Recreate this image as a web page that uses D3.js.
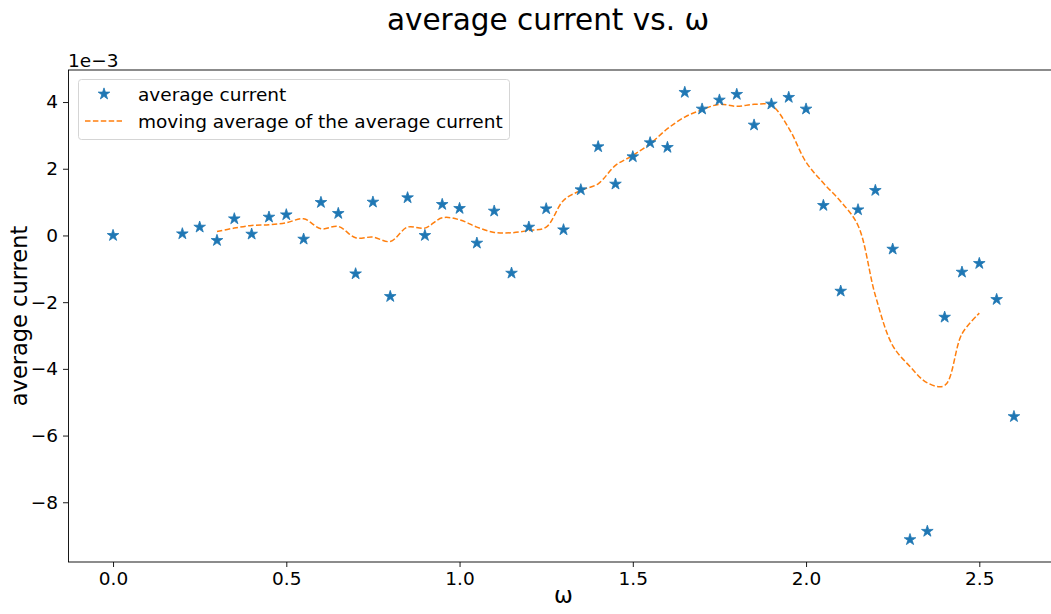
<!DOCTYPE html>
<html>
<head>
<meta charset="utf-8">
<script src="https://cdn.jsdelivr.net/npm/d3@7"></script>
<style>
  html, body { margin: 0; padding: 0; background: #fff; }
  svg { display: block; font-family: "DejaVu Sans", sans-serif; }
</style>
</head>
<body>
<svg id="chart" width="1051" height="614"></svg>
<script>
// Drive frequency ω for each measurement
const omega = [0.0, 0.2, 0.25, 0.3, 0.35, 0.4, 0.45, 0.5, 0.55, 0.6, 0.65, 0.7, 0.75, 0.8,
  0.85, 0.9, 0.95, 1.0, 1.05, 1.1, 1.15, 1.2, 1.25, 1.3, 1.35, 1.4, 1.45, 1.5, 1.55, 1.6,
  1.65, 1.7, 1.75, 1.8, 1.85, 1.9, 1.95, 2.0, 2.05, 2.1, 2.15, 2.2, 2.25, 2.3, 2.35, 2.4,
  2.45, 2.5, 2.55, 2.6];

// Average current at each ω, in units of 1e-3
const avgCurrent = [0.0, 0.05, 0.25, -0.15, 0.5, 0.04, 0.55, 0.62, -0.11, 0.99, 0.66, -1.15,
  1.0, -1.83, 1.13, 0.0, 0.93, 0.81, -0.23, 0.73, -1.13, 0.25, 0.8, 0.17, 1.37, 2.66, 1.54,
  2.36, 2.78, 2.64, 4.29, 3.79, 4.06, 4.23, 3.31, 3.94, 4.14, 3.79, 0.9, -1.67, 0.77, 1.35,
  -0.41, -9.12, -8.87, -2.45, -1.1, -0.84, -1.92, -5.43];

// Smoothed moving average of the average current (units of 1e-3)
const maOmega = [0.3, 0.35, 0.4, 0.45, 0.5, 0.55, 0.6, 0.65, 0.7, 0.75, 0.8, 0.85, 0.9,
  0.95, 1.0, 1.05, 1.1, 1.15, 1.2, 1.25, 1.3, 1.35, 1.4, 1.45, 1.5, 1.55, 1.6, 1.65, 1.7,
  1.75, 1.8, 1.85, 1.9, 1.95, 2.0, 2.05, 2.1, 2.15, 2.2, 2.25, 2.3, 2.35, 2.4, 2.45, 2.5];
const maCurrent = [0.12, 0.22, 0.30, 0.32, 0.38, 0.50, 0.20, 0.27, -0.07, -0.05, -0.18,
  0.25, 0.22, 0.53, 0.47, 0.25, 0.09, 0.08, 0.15, 0.25, 1.05, 1.35, 1.55, 2.1, 2.4, 2.75,
  3.2, 3.55, 3.77, 3.93, 3.87, 3.93, 3.9, 3.22, 2.2, 1.57, 1.02, 0.3, -1.8, -3.3, -3.93,
  -4.42, -4.5, -2.95, -2.33];

const xTicks = [0.0, 0.5, 1.0, 1.5, 2.0, 2.5];
const yTicks = [-8, -6, -4, -2, 0, 2, 4];

const titleText = "average current vs. ω";
const xLabel = "ω";
const yLabel = "average current";
const offsetText = "1e−3";
const legendLabels = ["average current", "moving average of the average current"];

const blue = "#1f77b4";
const orange = "#ff7f0e";

const svg = d3.select("#chart");
const plot = { left: 68, right: 1059, top: 70, bottom: 562 };

// 5% margins on both axes, like the default autoscaling
function padded(ext) {
  const d = (ext[1] - ext[0]) * 0.05;
  return [ext[0] - d, ext[1] + d];
}
const x = d3.scaleLinear().domain(padded(d3.extent(omega))).range([plot.left, plot.right]);
const y = d3.scaleLinear().domain(padded(d3.extent(avgCurrent))).range([plot.bottom, plot.top]);

const clipId = "plot-clip";
svg.append("defs").append("clipPath").attr("id", clipId)
  .append("rect")
  .attr("x", plot.left).attr("y", plot.top)
  .attr("width", plot.right - plot.left).attr("height", plot.bottom - plot.top);

// Axes
const xAxis = svg.append("g")
  .attr("transform", `translate(0,${plot.bottom})`)
  .call(d3.axisBottom(x).tickValues(xTicks).tickFormat(d3.format(".1f")).tickSizeOuter(0).tickSize(5).tickPadding(5));
const yAxis = svg.append("g")
  .attr("transform", `translate(${plot.left},0)`)
  .call(d3.axisLeft(y).tickValues(yTicks).tickFormat(d3.format("d")).tickSizeOuter(0).tickSize(5).tickPadding(5));
[xAxis, yAxis].forEach(g => {
  g.select(".domain").remove();
  g.selectAll(".tick line").attr("stroke", "#000").attr("stroke-width", 0.9);
  g.selectAll(".tick text").attr("fill", "#000").style("font-size", "18.5px")
    .style("font-family", "'DejaVu Sans', sans-serif");
});

// Frame
svg.append("rect")
  .attr("x", plot.left + 0.5).attr("y", plot.top)
  .attr("width", plot.right - plot.left).attr("height", plot.bottom - plot.top)
  .attr("fill", "none").attr("stroke", "#000").attr("stroke-width", 0.9);

const g = svg.append("g").attr("clip-path", `url(#${clipId})`);

// Moving-average curve
const line = d3.line()
  .x((d, i) => x(maOmega[i]))
  .y(d => y(d))
  .curve(d3.curveCatmullRom.alpha(0.5));
g.append("path")
  .datum(maCurrent)
  .attr("d", line)
  .attr("fill", "none")
  .attr("stroke", orange)
  .attr("stroke-width", 1.5)
  .attr("stroke-dasharray", "5.5,2.4");

// Star markers
const star = d3.symbol().type(d3.symbolStar).size(42);
g.selectAll("path.pt")
  .data(avgCurrent)
  .join("path")
  .attr("class", "pt")
  .attr("d", star)
  .attr("transform", (d, i) => `translate(${x(omega[i])},${y(d)})`)
  .attr("fill", blue)
  .attr("stroke", blue)
  .attr("stroke-width", 0.8);

// Title
svg.append("text")
  .attr("x", 548).attr("y", 30)
  .attr("text-anchor", "middle")
  .style("font-size", "29.5px")
  .text(titleText);

// Axis labels
svg.append("text")
  .attr("x", (plot.left + plot.right) / 2).attr("y", 603)
  .attr("text-anchor", "middle")
  .style("font-size", "22.5px")
  .text(xLabel);
svg.append("text")
  .attr("transform", `translate(27,${(plot.top + plot.bottom) / 2}) rotate(-90)`)
  .attr("text-anchor", "middle")
  .style("font-size", "22.5px")
  .text(yLabel);

// Scale offset
svg.append("text")
  .attr("x", plot.left).attr("y", 67)
  .style("font-size", "18.5px")
  .text(offsetText);

// Legend
const legend = svg.append("g").attr("transform", "translate(78,79)");
legend.append("rect")
  .attr("x", 0.5).attr("y", 0.5)
  .attr("width", 431).attr("height", 60)
  .attr("rx", 3).attr("ry", 3)
  .attr("fill", "#fff").attr("fill-opacity", 0.8)
  .attr("stroke", "#d5d5d5").attr("stroke-width", 1);
legend.append("path")
  .attr("d", star)
  .attr("transform", "translate(26,15)")
  .attr("fill", blue).attr("stroke", blue).attr("stroke-width", 0.8);
legend.append("line")
  .attr("x1", 7).attr("x2", 44).attr("y1", 42).attr("y2", 42)
  .attr("stroke", orange).attr("stroke-width", 1.5)
  .attr("stroke-dasharray", "5.5,2.4");
legend.selectAll("text.lbl")
  .data(legendLabels)
  .join("text")
  .attr("class", "lbl")
  .attr("x", 60)
  .attr("y", (d, i) => 22 + i * 26.5)
  .style("font-size", "18.5px")
  .text(d => d);
</script>
</body>
</html>
